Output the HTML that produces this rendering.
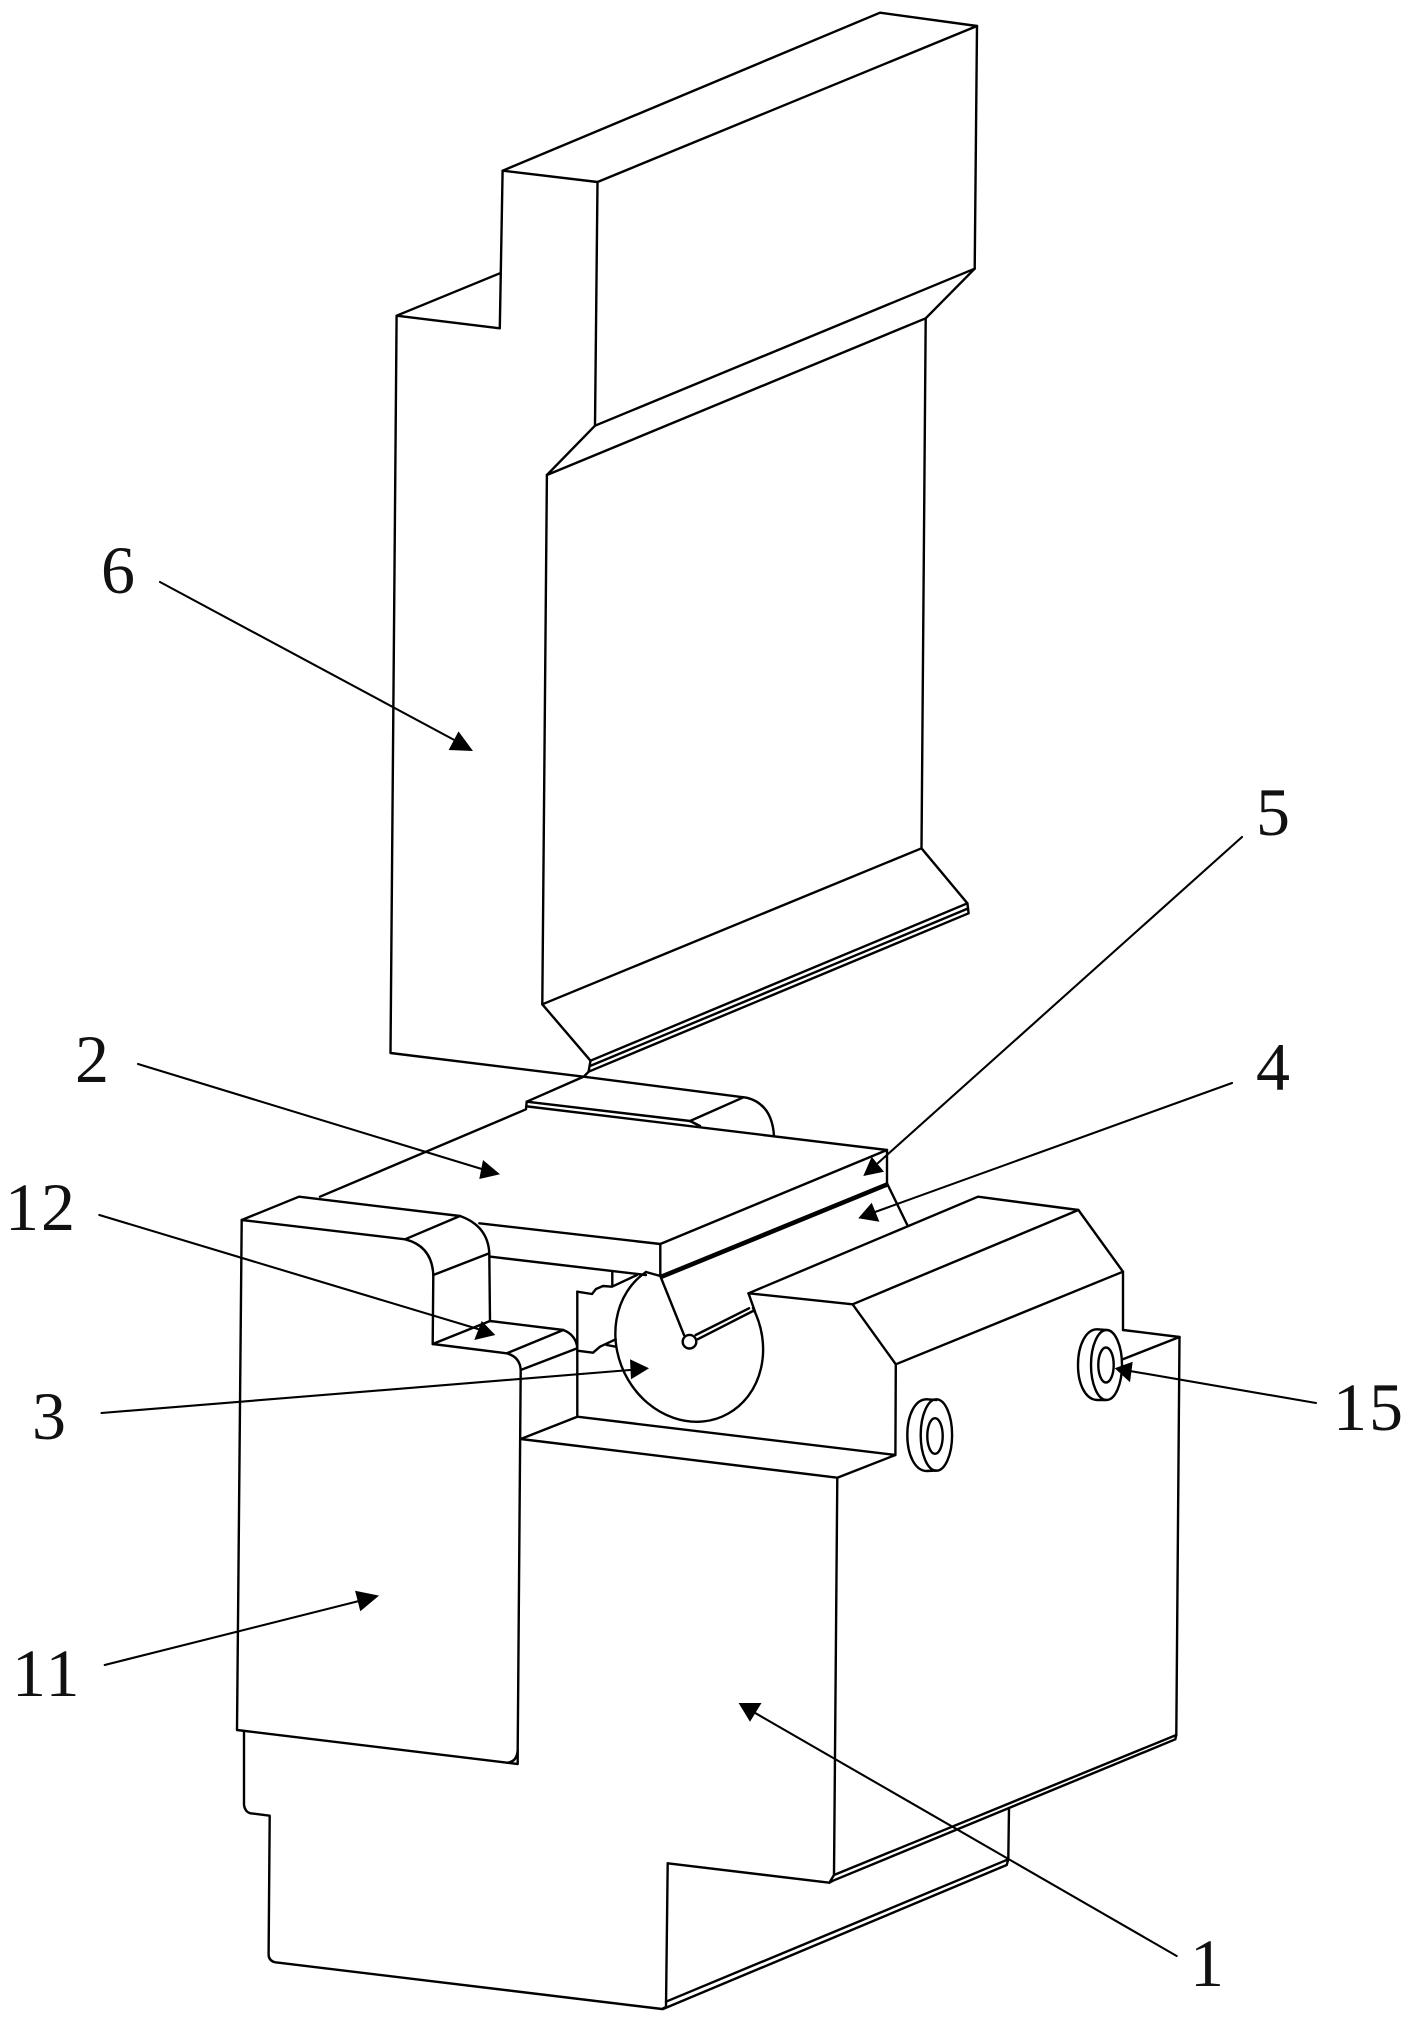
<!DOCTYPE html>
<html><head><meta charset="utf-8"><style>
html,body{margin:0;padding:0;background:#fff}
svg{display:block}
.l{fill:none;stroke:#000;stroke-width:2.4;stroke-linejoin:round;stroke-linecap:round}
text{font-family:"Liberation Serif",serif;font-size:68px;letter-spacing:2px;fill:#111}
</style></head><body>
<svg width="1413" height="2024" viewBox="0 0 1413 2024" xmlns="http://www.w3.org/2000/svg">
<g class="l">
<!-- part 6 -->
<path d="M502.6 170.7L880 12.7L977 26L597.5 182Z"/>
<path d="M977 26L974.7 268.7L595 425.7L597.5 182"/>
<path d="M502.6 170.7L499.8 328.3L396.6 315.7L499.8 273.3"/>
<path d="M396.6 315.7L390.5 1053L583.6 1076.7L746.6 1097.7"/>
<path d="M595 425.7L546.9 475L925.7 318.3L974.7 268.7"/>
<path d="M546.9 475L542.3 1004.3L921.5 848.3L925.7 318.3"/>
<path d="M542.3 1004.3L590.5 1060.7L967.4 903.3L921.5 848.3"/>
<path d="M590.5 1060.7L588.6 1071.7L968.6 913.3L967.4 903.3"/>
<path d="M590 1066L968 908.5"/>
<path d="M588.6 1071.7L584 1076.5L526.7 1101.7"/>
<!-- part 2 -->
<path d="M526.7 1101.7L526 1109.3L320 1196.7"/>
<path d="M526.7 1101.7L690 1121L700 1126"/>
<path d="M528 1106.5L887 1150"/>
<path d="M690 1121L743.5 1097.3"/>
<path d="M746.6 1097.7Q772 1104 774 1136"/>
<path d="M479.3 1223.3L660.3 1244L887 1150L887 1183.3"/>
<path d="M660.3 1244L660.3 1276"/>
<path d="M660.3 1276L887 1183.3L907.3 1225" />
<path d="M662 1277.5L887 1185.5" style="stroke-width:2.8"/>
<path d="M490.7 1256.7L646 1275"/>
<!-- part 11 -->
<path d="M241.7 1220L299 1196.7L460 1216Q488 1226 489.3 1253.3L490 1321"/>
<path d="M241.7 1220L405 1239.3Q432 1246 433.3 1275L432.7 1344L506.7 1353.3Q520 1357 520.7 1370L517.7 1750Q517 1762 507 1762.7L237 1730L241.7 1220"/>
<path d="M405 1239.3L460 1216"/>
<path d="M433.3 1275L489.3 1253.3"/>
<path d="M432.7 1344L490 1321L563.3 1330Q576 1335 577.3 1348"/>
<path d="M506.7 1353.3L563.3 1330"/>
<path d="M520.7 1370L577.3 1348.3"/>
<path d="M517.7 1750L517.7 1764L507 1762.7"/>
<!-- notch -->
<path d="M577.3 1291.7L577.3 1416.7L520.7 1439"/>
<path d="M577.3 1291.7L592 1294L596 1289L603 1286L612 1286.7L637 1275"/>
<path d="M612.3 1272.3L612.3 1285"/>
<path d="M577.3 1350.7L593 1352.7L600 1346.7L615.7 1339.3"/>
<path d="M606.7 1345L615.7 1346.7"/>
<!-- disc -->
<path d="M646 1272A82 72 65 1 0 753 1308"/>
<path d="M646 1272L660.3 1276L684 1335"/>
<circle cx="689.5" cy="1341.7" r="6.8"/>
<path d="M695.7 1335L749 1308.3"/>
<path d="M697.6 1339.3L753 1311"/>
<path d="M748.5 1293.3L755 1311.7"/>
<!-- main block -->
<path d="M748.5 1293.3L978 1196.7L1078.4 1210L1123 1271.7L1123 1330"/>
<path d="M748.5 1293.3L852.6 1304.3L895.8 1364.3L1123 1271.7"/>
<path d="M852.6 1304.3L1078.4 1210"/>
<path d="M895.8 1364.3L895.4 1455L837.3 1477.7L520.7 1439"/>
<path d="M577.3 1416.7L895.4 1455"/>
<path d="M837.3 1477.7L834 1875L829.3 1882.7L667.7 1863.3"/>
<path d="M1123 1330L1179.5 1337L1176.3 1735L1175.3 1739.3L833 1880.7L829.3 1882.7"/>
<path d="M834 1875L1176.3 1735"/>
<path d="M1123.5 1359L1179.5 1337"/>
<!-- base -->
<path d="M244 1731.7L244 1805Q245 1812 250.6 1813.3L269.7 1815.7L268.6 1955Q269 1961 275.5 1962.3L662 2009L666 2007L667.7 1863.3"/>
<path d="M666 2001.7L1008.3 1859.3L1009 1808"/>
<path d="M663 2009L1006.7 1865L1008.3 1859.3"/>
<!-- washers -->
<path d="M1097.5 1329.3C1086 1329 1078 1345 1078 1365C1078 1385 1086 1400 1097.5 1400L1106 1400"/>
<path d="M1097.5 1329.3L1106 1330"/>
<ellipse cx="1106.5" cy="1365" rx="15.5" ry="35"/>
<ellipse cx="1106" cy="1365" rx="7.7" ry="17.5"/>
<path d="M927 1399.3C915 1399 907.3 1415 907.3 1435C907.3 1455 915 1471 927 1471L936.4 1470.5"/>
<path d="M927 1399.3L936.4 1400"/>
<ellipse cx="936.4" cy="1435" rx="15.7" ry="35.7"/>
<ellipse cx="935" cy="1436" rx="7.7" ry="17.8"/>
</g>
<!-- leaders -->
<g class="l" style="stroke-width:2.1">
<path d="M160 582L458 742"/>
<path d="M138 1064L485 1170"/>
<path d="M99.3 1215L478 1329"/>
<path d="M101.5 1413L630 1370"/>
<path d="M104.7 1665L359 1601"/>
<path d="M1242 837L878 1163"/>
<path d="M1232 1083L875 1212"/>
<path d="M1316 1403L1130 1371"/>
<path d="M1176.7 1956L750 1710"/>
</g>
<g fill="#000" stroke="none">
<polygon points="473,751 448.7,750 458.5,731.4"/>
<polygon points="500,1174.3 483,1160 479.3,1179"/>
<polygon points="495.3,1335 481.7,1321 474.3,1340"/>
<polygon points="649,1368.3 630,1359.3 631,1379.3"/>
<polygon points="379,1595.6 360.3,1611.2 355.1,1590.8"/>
<polygon points="863.3,1176 871.7,1156.7 884,1171.7"/>
<polygon points="858.3,1218.3 871.7,1202.7 879.4,1221.7"/>
<polygon points="1114.7,1368.3 1132.7,1361.7 1130,1382.3"/>
<polygon points="738.6,1703 761.5,1703 750,1721.7"/>
</g>
<text x="101" y="593">6</text>
<text x="1256" y="835">5</text>
<text x="75" y="1082">2</text>
<text x="1256" y="1090">4</text>
<text x="5" y="1230">12</text>
<text x="32" y="1439">3</text>
<text x="1333" y="1430">15</text>
<text x="12" y="1696">11</text>
<text x="1190" y="1986">1</text>
</svg>
</body></html>
